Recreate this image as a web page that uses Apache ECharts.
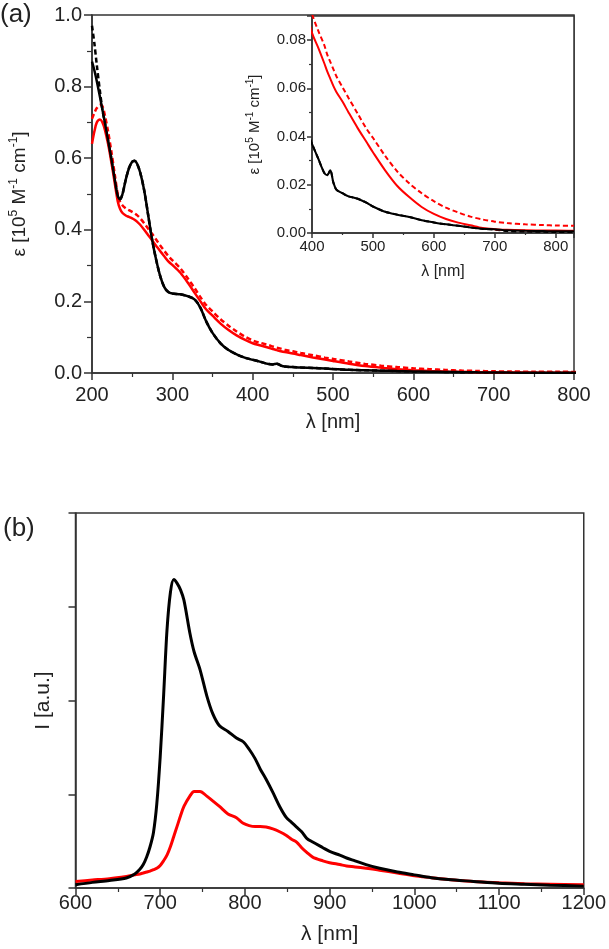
<!DOCTYPE html>
<html>
<head>
<meta charset="utf-8">
<script src="https://cdn.jsdelivr.net/npm/echarts@6/dist/echarts.min.js"></script>
<style>
    html, body { margin: 0; padding: 0; background: #fff; }
    #chart { width: 609px; height: 949px; }
</style>
</head>
<body>
<div id="chart"></div>
<script>
// (a) absorption, wavelength grid [nm]
var absWl = [200, 203, 206, 210, 213, 216, 220, 224, 228, 232, 235, 238, 242, 246, 250, 253, 256, 260, 265, 270,
    275, 280, 285, 290, 295, 300, 310, 320, 328, 335, 342, 350, 360, 370, 380, 390, 400, 410, 420, 425,
    430, 435, 440, 450, 460, 475, 490, 500, 520, 540, 560, 580, 600, 620, 640, 660, 680, 700, 720, 750,
    780, 800, 830];
var absBlack = [0.87, 0.845, 0.815, 0.77, 0.735, 0.70, 0.65, 0.60, 0.545, 0.495, 0.485, 0.50, 0.54, 0.572, 0.59, 0.593, 0.585, 0.56, 0.51, 0.44,
    0.37, 0.315, 0.27, 0.24, 0.226, 0.222, 0.22, 0.214, 0.205, 0.182, 0.145, 0.112, 0.083, 0.064, 0.052, 0.043, 0.037, 0.031, 0.025, 0.024,
    0.026, 0.021, 0.018, 0.0165, 0.0152, 0.0142, 0.0125, 0.011, 0.0088, 0.0076, 0.0066, 0.0053, 0.0044, 0.0036, 0.003, 0.0023, 0.0018, 0.0016, 0.0011, 0.0009,
    0.0008, 0.0007, 0.0007];
var absBlackDash = [0.97, 0.92, 0.86, 0.785, 0.735, 0.70, 0.65, 0.60, 0.545, 0.495, 0.485, 0.50, 0.54, 0.572, 0.59, 0.593, 0.585, 0.56, 0.51, 0.44,
    0.37, 0.315, 0.27, 0.24, 0.226, 0.222, 0.22, 0.214, 0.205, 0.182, 0.145, 0.112, 0.083, 0.064, 0.052, 0.043, 0.037, 0.031, 0.025, 0.024,
    0.026, 0.021, 0.018, 0.0165, 0.0152, 0.0142, 0.0125, 0.011, 0.0088, 0.0076, 0.0066, 0.0053, 0.0044, 0.0036, 0.003, 0.0023, 0.0017, 0.0014, 0.0008, 0.0006,
    0.0005, 0.0004, 0.0004];
var absRed = [0.64, 0.675, 0.70, 0.708, 0.70, 0.68, 0.64, 0.59, 0.535, 0.48, 0.458, 0.447, 0.44, 0.436, 0.432, 0.428, 0.423, 0.414, 0.40, 0.385,
    0.37, 0.355, 0.34, 0.326, 0.312, 0.302, 0.28, 0.25, 0.223, 0.20, 0.178, 0.16, 0.138, 0.12, 0.105, 0.093, 0.083, 0.077, 0.0705, 0.067,
    0.064, 0.061, 0.0585, 0.0545, 0.050, 0.0435, 0.0375, 0.0335, 0.026, 0.0195, 0.0148, 0.0108, 0.0079, 0.0058, 0.0043, 0.0032, 0.0021, 0.0016, 0.0013, 0.0011,
    0.001, 0.001, 0.0009];
var absRedDash = [0.71, 0.727, 0.74, 0.749, 0.745, 0.72, 0.675, 0.62, 0.56, 0.50, 0.478, 0.468, 0.46, 0.455, 0.45, 0.446, 0.441, 0.432, 0.418, 0.403,
    0.388, 0.372, 0.356, 0.341, 0.327, 0.315, 0.292, 0.262, 0.236, 0.212, 0.19, 0.172, 0.15, 0.132, 0.116, 0.102, 0.091, 0.084, 0.078, 0.074,
    0.071, 0.068, 0.065, 0.0605, 0.056, 0.0495, 0.043, 0.0395, 0.032, 0.0255, 0.0205, 0.0165, 0.0132, 0.0105, 0.0085, 0.0068, 0.0056, 0.0047, 0.0041, 0.0036,
    0.0033, 0.0031, 0.003];

// (b) emission
var emWl = [600, 620, 640, 660, 670, 676, 680, 684, 688, 692, 696, 700, 704, 708, 712, 716, 720, 724, 728, 735,
    740, 747, 755, 762, 770, 780, 790, 798, 805, 812, 818, 825, 833, 841, 849, 855, 861, 867, 873, 880,
    892, 900, 912, 920, 930, 943, 959, 980, 1000, 1020, 1040, 1070, 1100, 1130, 1160, 1200];
var emBlack = [0.035, 0.06, 0.08, 0.107, 0.15, 0.2, 0.25, 0.33, 0.44, 0.59, 0.9, 1.4, 2.05, 2.75, 3.15, 3.29, 3.25, 3.18, 3.07, 2.72,
    2.52, 2.33, 2.05, 1.86, 1.73, 1.67, 1.6, 1.56, 1.48, 1.38, 1.27, 1.16, 1.02, 0.87, 0.75, 0.7, 0.65, 0.6, 0.53, 0.49,
    0.43, 0.39, 0.35, 0.32, 0.29, 0.25, 0.21, 0.17, 0.14, 0.11, 0.09, 0.07, 0.05, 0.04, 0.03, 0.02];
var emRed = [0.07, 0.085, 0.1, 0.124, 0.14, 0.15, 0.16, 0.17, 0.18, 0.195, 0.21, 0.24, 0.29, 0.35, 0.44, 0.55, 0.66, 0.77, 0.87, 0.98,
    1.03, 1.03, 0.98, 0.93, 0.87, 0.79, 0.75, 0.69, 0.665, 0.655, 0.655, 0.65, 0.63, 0.6, 0.56, 0.52, 0.49, 0.43, 0.38, 0.33,
    0.29, 0.27, 0.25, 0.235, 0.225, 0.21, 0.19, 0.16, 0.13, 0.11, 0.09, 0.07, 0.055, 0.045, 0.04, 0.035];

var FONT = 'Liberation Sans, Arial, sans-serif';
var AXIS_COLOR = '#333';
var TEXT_COLOR = '#222';

function zip(xs, ys) {
    var out = [];
    for (var i = 0; i < xs.length; i++) out.push([xs[i], ys[i]]);
    return out;
}

function xAxisOf(idx, min, max, opts) {
    return {
        type: 'value', gridIndex: idx, min: min, max: max, interval: 100,
        name: 'λ [nm]', nameLocation: 'middle', nameGap: opts.nameGap,
        nameTextStyle: {fontFamily: FONT, fontSize: opts.nameSize, color: TEXT_COLOR},
        axisLine: {onZero: false, lineStyle: {color: AXIS_COLOR, width: 1.5}},
        axisTick: {inside: false, length: opts.tick, lineStyle: {color: AXIS_COLOR, width: 1.5}},
        minorTick: {show: true, splitNumber: 2, length: opts.tick - 3, lineStyle: {color: AXIS_COLOR, width: 1.2}},
        axisLabel: {fontFamily: FONT, fontSize: opts.labelSize, color: TEXT_COLOR, margin: opts.margin,
            showMaxLabel: opts.showMax, formatter: function (v) { return String(v); }},
        splitLine: {show: false}
    };
}

function epsName(size, supSize, lh) {
    return {
        name: '{t|ε [10}{s|5}{t| M}{s|-1}{t| cm}{s|-1}{t|]}',
        nameTextStyle: {fontFamily: FONT, color: TEXT_COLOR, rich: {
            t: {fontFamily: FONT, fontSize: size, lineHeight: lh, color: TEXT_COLOR},
            s: {fontFamily: FONT, fontSize: supSize, verticalAlign: 'top', color: TEXT_COLOR}
        }}
    };
}

var chartDom = document.getElementById('chart');
var myChart = echarts.init(chartDom, null, {renderer: 'canvas'});

var lineBase = function (data, xi, color, width, dash, z) {
    return {
        type: 'line', xAxisIndex: xi, yAxisIndex: xi, data: data,
        showSymbol: false, symbol: 'none', smooth: 0.3, clip: true, z: z,
        lineStyle: {color: color, width: width, type: dash ? [5, 3] : 'solid'},
        animation: false
    };
};

var option = {
    animation: false,
    backgroundColor: '#fff',
    grid: [
        {left: 87, top: 15, width: 487, height: 358, show: true, borderColor: AXIS_COLOR, borderWidth: 1.5, backgroundColor: 'transparent'},
        {left: 312, top: 16, width: 262, height: 217, show: true, borderColor: AXIS_COLOR, borderWidth: 1.5, backgroundColor: '#fff', z: 5},
        {left: 75.5, top: 513, width: 510, height: 375, show: true, borderColor: AXIS_COLOR, borderWidth: 1.5, backgroundColor: 'transparent'}
    ],
    xAxis: [
        xAxisOf(0, 200, 800, {nameGap: 39, nameSize: 20, labelSize: 20, margin: 12, tick: 7, showMax: true}),
        Object.assign(xAxisOf(1, 400, 830, {nameGap: 31, nameSize: 16, labelSize: 15, margin: 6, tick: 5, showMax: false}), {z: 6}),
        xAxisOf(2, 600, 1200, {nameGap: 36, nameSize: 21, labelSize: 20, margin: 5, tick: 7, showMax: true})
    ],
    yAxis: [
        Object.assign({
            type: 'value', gridIndex: 0, min: 0, max: 1, interval: 0.2,
            nameLocation: 'middle', nameGap: 60,
            axisLine: {lineStyle: {color: AXIS_COLOR, width: 1.5}},
            axisTick: {length: 8, lineStyle: {color: AXIS_COLOR, width: 1.5}},
            minorTick: {show: true, splitNumber: 2, length: 5, lineStyle: {color: AXIS_COLOR, width: 1.2}},
            axisLabel: {fontFamily: FONT, fontSize: 20, color: TEXT_COLOR, margin: 10, formatter: function (v) { return v.toFixed(1); }},
            splitLine: {show: false}
        }, epsName(19, 12, 24)),
        Object.assign({
            type: 'value', gridIndex: 1, min: 0, max: 0.09, interval: 0.02, z: 6,
            nameLocation: 'middle', nameGap: 48,
            axisLine: {lineStyle: {color: AXIS_COLOR, width: 1.5}},
            axisTick: {length: 5, lineStyle: {color: AXIS_COLOR, width: 1.5}},
            minorTick: {show: true, splitNumber: 2, length: 3, lineStyle: {color: AXIS_COLOR, width: 1.2}},
            axisLabel: {fontFamily: FONT, fontSize: 15, color: TEXT_COLOR, margin: 6, showMaxLabel: false,
                formatter: function (v) { return v.toFixed(2); }},
            splitLine: {show: false}
        }, epsName(15, 10, 19)),
        {
            type: 'value', gridIndex: 2, min: 0, max: 4, interval: 1,
            name: 'I [a.u.]', nameLocation: 'middle', nameGap: 22,
            nameTextStyle: {fontFamily: FONT, fontSize: 21, color: TEXT_COLOR},
            axisLine: {lineStyle: {color: AXIS_COLOR, width: 1.5}},
            axisTick: {length: 7, lineStyle: {color: AXIS_COLOR, width: 1.5}},
            axisLabel: {show: false},
            splitLine: {show: false}
        }
    ],
    graphic: [
        {type: 'text', left: 0, top: 2, style: {text: '(a)', font: '26px ' + FONT, fill: TEXT_COLOR}},
        {type: 'text', left: 3, top: 516, style: {text: '(b)', font: '26px ' + FONT, fill: TEXT_COLOR}}
    ],
    series: [
        // (a) main
        lineBase(zip(absWl, absBlackDash), 0, '#000', 2.5, true, 2),
        lineBase(zip(absWl, absRedDash), 0, '#ff0000', 2.5, true, 2),
        lineBase(zip(absWl, absRed), 0, '#ff0000', 2.5, false, 3),
        lineBase(zip(absWl, absBlack), 0, '#000', 2.5, false, 4),
        // (a) inset
        lineBase(zip(absWl, absBlackDash), 1, '#000', 2, true, 7),
        lineBase(zip(absWl, absRedDash), 1, '#ff0000', 2, true, 7),
        lineBase(zip(absWl, absRed), 1, '#ff0000', 2, false, 8),
        lineBase(zip(absWl, absBlack), 1, '#000', 2, false, 9),
        // (b)
        lineBase(zip(emWl, emRed), 2, '#ff0000', 3, false, 3),
        lineBase(zip(emWl, emBlack), 2, '#000', 3, false, 4)
    ]
};

option && myChart.setOption(option);
</script>
</body>
</html>
